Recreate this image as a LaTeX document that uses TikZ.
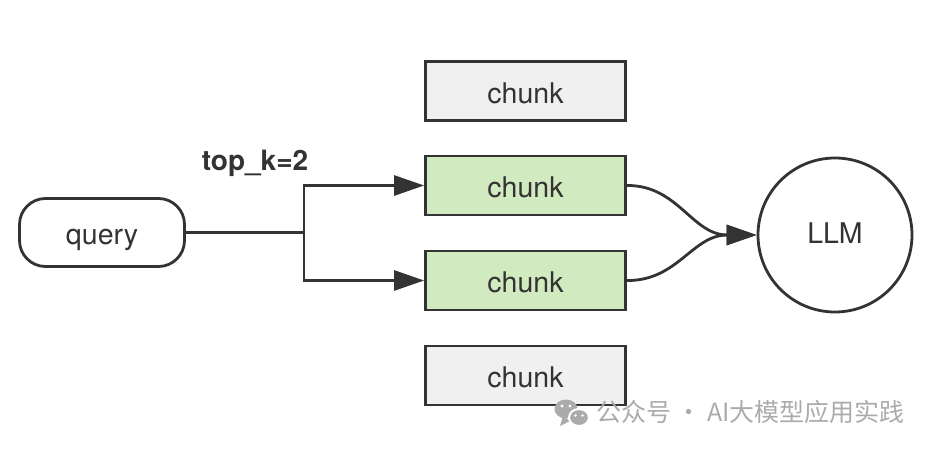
\documentclass[tikz,border=0pt]{standalone}
\usepackage{fontspec}
\setmainfont{TeX Gyre Heros}
\newfontfamily\cjkfont{Noto Sans CJK SC}
\usetikzlibrary{arrows.meta}
\definecolor{ink}{HTML}{333333}
\definecolor{grayfill}{HTML}{F0F0F0}
\definecolor{greenfill}{HTML}{D1EAC0}
\definecolor{wm}{HTML}{ABABAB}
\tikzset{
  base/.style={draw=ink, line width=2.8pt, text=ink, font=\fontsize{28.5}{32}\selectfont,
    text depth=0pt, text height=24pt},
  chunkbox/.style={base, rectangle, minimum width=200pt, minimum height=59pt, inner sep=0pt},
  graychunk/.style={chunkbox, fill=grayfill},
  greenchunk/.style={chunkbox, fill=greenfill},
  querybox/.style={base, rectangle, rounded corners=26pt, minimum width=165pt, minimum height=68pt, inner sep=0pt, fill=white},
  llmnode/.style={base, circle, minimum size=154pt, inner sep=0pt, fill=white, text height=16pt},
  conn/.style={draw=ink, line width=2.8pt},
  arr/.style={conn, -{Triangle[length=30pt,width=20pt]}},
}
\begin{document}
\begin{tikzpicture}[x=1pt,y=-1pt]
\useasboundingbox (0,0) rectangle (932,452);
\node[graychunk]  (c1) at (525.5,91) {chunk};
\node[greenchunk] (c2) at (525.5,185.5) {chunk};
\node[greenchunk] (c3) at (525.5,280.5) {chunk};
\node[graychunk]  (c4) at (525.5,375.5) {chunk};
\node[querybox] (q) at (102,232.5) {query};
\node[llmnode] (llm) at (835,235) {LLM};
\coordinate (split) at (304,232.5);
\node[anchor=base, inner sep=0pt, text=ink, font=\bfseries\fontsize{28}{30}\selectfont] (lbl) at (255,170) {top\_k=2};
\draw[conn] (q.east) -- (split);
\draw[arr] (split) |- (c2.west);
\draw[arr] (split) |- (c3.west);
\draw[arr] (c2.east) .. controls (678,185) and (692,235) .. (llm.west);
\draw[arr] (c3.east) .. controls (678,281) and (692,235) .. (llm.west);
% watermark
\fill[wm] (566,409) ellipse [x radius=11.5pt, y radius=9.5pt];
\fill[wm] (570,421) -- (560,426) -- (563,416) -- cycle;
\draw[white, line width=2pt, fill=wm] (579,417.5) ellipse [x radius=10pt, y radius=8.5pt];
\fill[white] (562,406) circle (1.6pt) (570,406) circle (1.6pt);
\fill[white] (575.5,415.5) circle (1.3pt) (582.5,415.5) circle (1.3pt);
\node[anchor=west, inner sep=0pt, text=wm, font=\cjkfont\fontsize{25}{28}\selectfont] (wmtext) at (596,412) {公众号 · AI大模型应用实践};
\end{tikzpicture}
\end{document}
